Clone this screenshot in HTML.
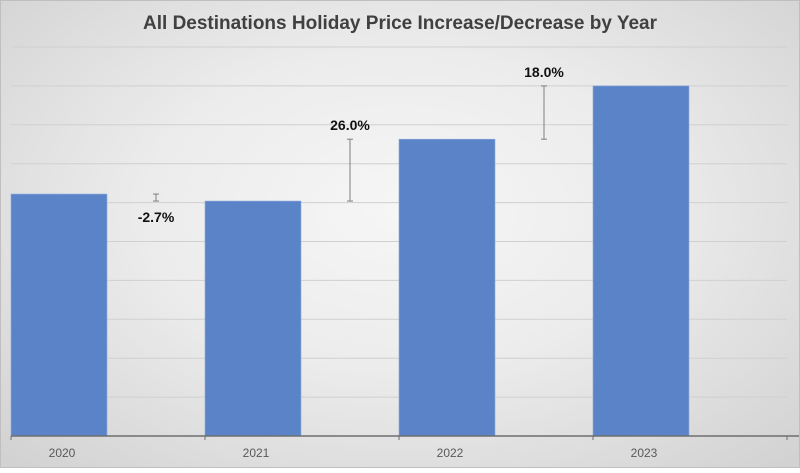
<!DOCTYPE html>
<html><head><meta charset="utf-8"><style>
html,body{margin:0;padding:0;}
body{width:800px;height:468px;overflow:hidden;font-family:"Liberation Sans",sans-serif;}
#chart{position:absolute;left:0;top:0;width:800px;height:468px;background:radial-gradient(ellipse 70% 75% at 50% 45%,#f6f6f6 0%,#ececec 45%,#d2d2d2 100%);}
</style></head><body>
<div id="chart">
<svg id="svg" width="800" height="468" xmlns="http://www.w3.org/2000/svg">
<rect x="0.5" y="0.5" width="799" height="467" fill="none" stroke="#bfbfbf"/>
<text x="400" y="29" text-anchor="middle" font-size="19" font-weight="bold" fill="#404040" font-family="Liberation Sans, sans-serif">All Destinations Holiday Price Increase/Decrease by Year</text>
</svg>
</div>
<script>
const categories = ["2020","2021","2022","2023"];
const values = [6.22, 6.04, 7.63, 9.0];
const changeLabels = ["-2.7%","26.0%","18.0%"];
const gridTicks = [0,1,2,3,4,5,6,7,8,9,10];

const svg = document.getElementById('svg');
const NS = 'http://www.w3.org/2000/svg';
const plotLeft = 11, plotRight = 787, axisY = 436, topY = 47, maxV = 10;
const catW = (plotRight - plotLeft) / categories.length;
const barW = 96;
function y(v){ return axisY - (v / maxV) * (axisY - topY); }
function xStart(i){ return plotLeft + i * catW; }
function mk(tag, attrs){ const e = document.createElementNS(NS, tag); for (const k in attrs) e.setAttribute(k, attrs[k]); svg.appendChild(e); return e; }

gridTicks.forEach(t => {
  if (t === 0) return;
  const g = mk('line', {x1: plotLeft, x2: plotRight, y1: y(t), y2: y(t), stroke: '#d0d0d0', 'stroke-width': 1});
  
  
});

categories.forEach((c, i) => {
  const r = mk('rect', {x: xStart(i), y: y(values[i]), width: barW, height: axisY - y(values[i]), fill: '#5b84c8', stroke: '#8eaadb', 'stroke-width': 0.6});
  
  
  const t = mk('text', {x: xStart(i) + catW/2 - 46, y: 457, 'text-anchor': 'middle', 'font-size': 12, fill: '#595959'});
  t.textContent = c;
  
  
});

const ax = mk('line', {x1: plotLeft, x2: 799, y1: axisY, y2: axisY, stroke: '#6e6e6e', 'stroke-width': 1.5});


for (let i = 0; i <= categories.length; i++) {
  const tk = mk('line', {x1: xStart(i), x2: xStart(i), y1: axisY, y2: axisY + 4, stroke: '#6e6e6e', 'stroke-width': 1});
  
  
}

changeLabels.forEach((lab, i) => {
  const a = values[i], b = values[i+1];
  const cx = xStart(i) + barW + (catW - barW) / 2;
  const y1 = y(a), y2 = y(b);
  const e = mk('line', {x1: cx, x2: cx, y1: y1, y2: y2, stroke: '#7f7f7f', 'stroke-width': 1});
  
  
  [y1, y2].forEach(yy => {
    const cap = mk('line', {x1: cx - 3, x2: cx + 3, y1: yy, y2: yy, stroke: '#7f7f7f', 'stroke-width': 1});
    
    
  });
  const ty = b < a ? Math.max(y1, y2) + 21 : Math.min(y1, y2) - 9;
  const t = mk('text', {x: cx, y: ty, 'text-anchor': 'middle', 'font-size': 14, 'font-weight': 'bold', fill: '#111'});
  t.textContent = lab;
  
  
});
</script>
</body></html>
